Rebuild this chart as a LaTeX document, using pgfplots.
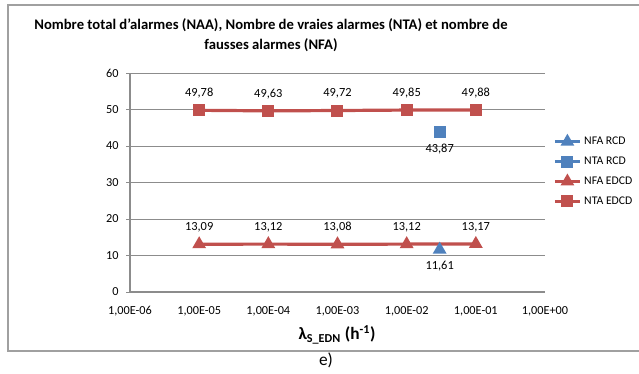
\documentclass[border=0pt]{standalone}
\usepackage{pgfplots}
\pgfplotsset{compat=1.18}
\usepackage{fontspec}
\setmainfont{Carlito}
\definecolor{xblue}{HTML}{4F81BD}
\definecolor{xred}{HTML}{C0504D}
\definecolor{xgray}{HTML}{8C8C8C}
\definecolor{fgray}{HTML}{A0A0A0}
\begin{document}
\begin{tikzpicture}[x=0.75pt,y=0.75pt]
\path[use as bounding box] (0,0) rectangle (639,374);
\draw[fgray, line width=1pt] (642,369) -- (8,369) -- (8,23) -- (642,23);
\node[font=\bfseries\fontsize{11}{15}\selectfont, align=center] at (271,339) {Nombre total d'alarmes (NAA), Nombre de vraies alarmes (NTA) et nombre de\\fausses alarmes (NFA)};
\begin{axis}[
  at={(97.5pt,61.5pt)}, anchor=south west, scale only axis,
  width=311.25pt, height=164.25pt,
  xmode=log, xmin=1e-6, xmax=1, ymin=0, ymax=60,
  ytick={0,10,20,30,40,50,60},
  xtick={1e-6,1e-5,1e-4,1e-3,1e-2,1e-1,1},
  xticklabels={{1,00E-06},{1,00E-05},{1,00E-04},{1,00E-03},{1,00E-02},{1,00E-01},{1,00E+00}},
  minor xtick={},
  axis x line*=bottom, axis y line*=left,
  axis line style={xgray, line width=0.8pt, -},
  ymajorgrids, grid style={xgray, line width=0.7pt},
  xtick style={draw=none}, ytick style={xgray, line width=0.7pt},
  tick align=outside, major tick length=3pt,
  tick label style={font=\fontsize{9.2}{10}\selectfont},
  /pgf/number format/assume math mode=true,
  xticklabel style={yshift=-4pt},
  yticklabel style={xshift=-2pt},
  legend cell align=left,
  legend style={at={(1.0193,0.7215)}, anchor=north west, draw=none, fill=none,
    font=\fontsize{8.8}{10}\selectfont, row sep=3.7pt, inner sep=0pt,
    nodes={inner xsep=2pt}},
  legend image code/.code={\draw[mark repeat=2,mark phase=2,#1] plot coordinates {(0pt,0pt)(9.4pt,0pt)(18.8pt,0pt)};},
  nodes near coords, point meta=y,
  nodes near coords style={font=\fontsize{9.3}{10}\selectfont, text=black, anchor=center,
    /pgf/number format/fixed, /pgf/number format/fixed zerofill, /pgf/number format/precision=2,
    /pgf/number format/use comma, /pgf/number format/assume math mode=true},
]
\addplot[xblue, line width=2.4pt, mark=triangle*, mark size=3.6pt, mark options={solid},
  nodes near coords style={yshift=-12.6pt}] coordinates {(3e-2,11.61)};
\addlegendentry{NFA RCD}
\addplot[xblue, line width=2.4pt, mark=square*, mark size=3.3pt,
  nodes near coords style={yshift=-12.6pt}] coordinates {(3e-2,43.87)};
\addlegendentry{NTA RCD}
\addplot[xred, line width=2.4pt, mark=triangle*, mark size=3.6pt,
  nodes near coords style={yshift=12.6pt}] coordinates {
  (1e-5,13.09) (1e-4,13.12) (1e-3,13.08) (1e-2,13.12) (1e-1,13.17)};
\addlegendentry{NFA EDCD}
\addplot[xred, line width=2.4pt, mark=square*, mark size=3.3pt,
  nodes near coords style={yshift=12.6pt}] coordinates {
  (1e-5,49.78) (1e-4,49.63) (1e-3,49.72) (1e-2,49.85) (1e-1,49.88)};
\addlegendentry{NTA EDCD}
\end{axis}
\node[font=\bfseries\fontsize{13}{15}\selectfont] at (337,39) {λ\textsubscript{S\_EDN} (h\textsuperscript{-1})};
\node[font=\fontsize{13}{15}\selectfont] at (326,14) {e)};
\end{tikzpicture}
\end{document}
